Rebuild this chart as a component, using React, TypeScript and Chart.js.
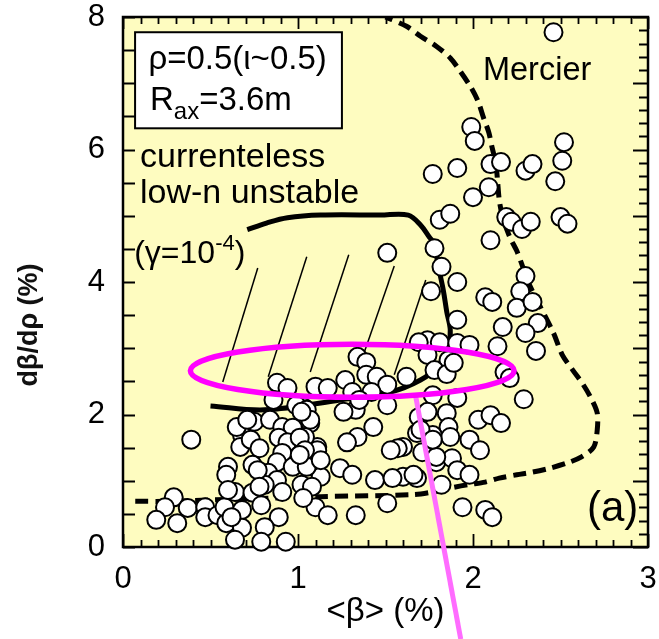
import React, { useEffect, useRef } from 'react';
import { Chart, registerables } from 'chart.js';

Chart.register(...registerables);

const FONT = '"Liberation Sans", Arial, Helvetica, sans-serif';

// axis ranges and labels
const xRange = [0, 3];
const yRange = [0, 8];
const xTickStep = 1;
const yTickStep = 2;
const xTitle = '<β> (%)';
const yTitle = 'dβ/dρ (%)';

// measured shots: [<beta> (%), d beta / d rho (%)]
const shotPoints: [number, number][] = [
  [2.46, 7.77], [1.99, 6.34], [2.01, 6.13], [1.77, 5.63], [1.91, 5.72], [2.10, 5.78],
  [2.16, 5.81], [2.30, 5.68], [2.34, 5.78], [2.52, 6.11], [2.51, 5.83], [2.47, 5.52],
  [2.00, 5.28], [2.09, 5.43], [1.81, 4.94], [1.87, 5.03], [2.19, 4.98], [2.22, 4.91],
  [2.28, 4.80], [2.33, 4.91], [2.50, 4.98], [2.54, 4.88], [2.10, 4.63], [1.78, 4.51],
  [1.82, 4.23], [1.91, 4.00], [1.76, 3.86], [2.30, 4.09], [2.27, 3.86], [2.07, 3.77],
  [2.11, 3.70], [2.25, 3.61], [2.34, 3.70], [1.51, 4.44], [1.91, 3.43], [2.17, 3.32],
  [2.37, 3.38], [2.30, 3.23], [2.14, 3.03], [2.36, 2.96], [1.74, 3.12], [1.81, 3.09],
  [1.91, 3.08], [1.98, 3.05], [1.69, 3.09], [1.74, 2.90], [1.86, 2.82], [1.78, 2.67],
  [1.85, 2.61], [1.62, 2.57], [2.18, 2.64], [2.21, 2.55], [1.77, 2.29], [1.91, 2.25],
  [2.29, 2.23], [1.69, 1.96], [1.74, 2.04], [1.85, 2.02], [1.86, 1.81], [2.03, 1.92],
  [2.10, 1.99], [2.16, 1.87], [1.68, 1.72], [1.77, 1.69], [1.87, 1.66], [1.98, 1.62],
  [1.60, 1.51], [2.04, 1.46], [1.71, 1.43], [1.79, 1.28], [1.88, 1.34], [1.91, 1.16],
  [1.98, 1.09], [1.68, 1.04], [1.60, 1.06], [1.82, 0.94], [1.94, 0.60], [2.07, 0.56],
  [2.11, 0.45], [1.89, 2.78], [1.34, 2.87], [1.39, 2.79], [1.39, 2.60], [1.45, 2.57],
  [1.27, 2.52], [1.10, 2.42], [1.17, 2.40], [1.51, 2.45], [1.31, 2.34], [1.42, 2.34],
  [1.33, 2.07], [1.51, 2.14], [1.03, 2.11], [1.07, 1.87], [1.43, 1.81], [1.34, 1.66],
  [1.11, 1.51], [1.04, 1.66], [1.70, 1.77], [1.79, 1.36], [1.77, 1.62], [1.24, 1.19],
  [1.31, 1.09], [1.44, 1.01], [1.66, 1.09], [1.09, 1.21], [1.13, 1.06], [0.88, 2.48],
  [0.94, 2.40], [0.86, 2.22], [0.99, 2.14], [1.05, 2.07], [0.75, 1.89], [0.84, 1.92],
  [0.91, 1.81], [0.97, 1.80], [1.07, 1.92], [0.39, 1.62], [0.68, 1.69], [0.67, 1.51],
  [0.73, 1.62], [0.78, 1.49], [0.89, 1.65], [0.94, 1.58], [1.01, 1.65], [1.11, 1.46],
  [1.04, 1.46], [0.91, 1.42], [0.60, 1.21], [0.59, 1.09], [0.74, 1.24], [0.88, 1.28],
  [0.97, 1.21], [1.05, 1.21], [0.83, 1.12], [0.88, 1.01], [0.81, 0.94], [0.64, 0.83],
  [0.74, 0.82], [0.91, 0.83], [1.02, 0.94], [1.08, 0.91], [0.29, 0.75], [0.24, 0.60],
  [0.37, 0.59], [0.47, 0.60], [0.47, 0.45], [0.54, 0.48], [0.58, 0.60], [0.68, 0.56],
  [0.79, 0.63], [0.89, 0.45], [1.10, 0.60], [0.19, 0.41], [0.31, 0.36], [0.59, 0.36],
  [0.68, 0.29], [0.81, 0.30], [0.64, 0.11], [0.79, 0.08], [0.93, 0.08], [1.03, 0.74],
  [1.33, 0.48], [1.17, 0.48], [1.51, 0.66], [1.35, 2.22], [1.57, 1.49], [1.01, 1.39],
  [0.77, 1.16], [0.78, 0.91], [0.60, 0.86], [0.62, 0.45], [0.65, 1.81], [0.71, 1.92],
  [1.02, 2.04], [1.13, 1.31], [1.26, 2.04], [1.28, 1.58], [1.53, 1.46], [1.54, 1.04],
];

// Mercier boundary (dashed)
const mercierBeta = [
  0.07, 0.24, 1.13, 1.66, 1.77, 1.87, 1.97, 2.07, 2.15, 2.25, 2.34, 2.44, 2.54, 2.62,
  2.69, 2.71, 2.71, 2.68, 2.63, 2.57, 2.51, 2.46, 2.38, 2.31, 2.28, 2.25, 2.21, 2.17,
  2.15, 2.14, 2.13, 2.11, 2.09, 2.06, 2.03, 1.99, 1.93, 1.87, 1.79, 1.70, 1.62, 1.50,
];
const mercierGrad = [
  0.69, 0.69, 0.76, 0.79, 0.83, 0.89, 0.94, 0.98, 1.04, 1.09, 1.13, 1.19, 1.27, 1.36,
  1.51, 1.77, 2.02, 2.22, 2.45, 2.67, 2.90, 3.23, 3.65, 4.03, 4.26, 4.47, 4.68, 4.97,
  5.24, 5.54, 5.80, 6.02, 6.26, 6.48, 6.72, 6.93, 7.17, 7.38, 7.56, 7.71, 7.86, 8.00,
];

// currentless low-n unstable boundary (solid)
const lowNBeta = [0.50, 0.81, 1.24, 1.53, 1.70, 1.80, 1.86, 1.87, 1.85, 1.83, 1.80, 1.78, 1.75, 1.70, 1.63, 1.47, 1.13, 0.94, 0.82, 0.71];
const lowNGrad = [2.13, 2.07, 2.22, 2.34, 2.52, 2.73, 3.05, 3.28, 3.55, 3.88, 4.26, 4.57, 4.68, 4.86, 5.01, 5.01, 5.01, 4.97, 4.89, 4.79];

// hatch lines inside the unstable region: [beta, grad] top and bottom ends
const hatchTop: [number, number][] = [[0.77, 4.21], [1.05, 4.38], [1.29, 4.41], [1.55, 4.24], [1.73, 4.03]];
const hatchBottom: [number, number][] = [[0.57, 2.49], [0.83, 2.57], [1.07, 2.64], [1.35, 2.72], [1.55, 2.60]];

// magenta highlight ellipse and pointer
const ellipseCenter = [1.31, 2.66];
const ellipseRadii = [0.925, 0.40];
const pointerFrom = [1.67, 2.31];
const pointerTo = [1.93, -1.39];

const framePlugin = {
  id: 'frame',
  beforeDraw(chart: any) {
    const { ctx, chartArea: a } = chart;
    ctx.save();
    ctx.fillStyle = '#ffffff';
    ctx.fillRect(0, 0, chart.width, chart.height);
    ctx.fillStyle = '#fefcc0';
    ctx.fillRect(a.left, a.top, a.right - a.left, a.bottom - a.top);
    ctx.restore();
  },
  beforeDatasetsDraw(chart: any) {
    const { ctx, chartArea: a, scales } = chart;
    const x = scales.x, y = scales.y;
    ctx.save();
    ctx.strokeStyle = '#000';
    ctx.lineWidth = 1.8;
    ctx.beginPath();
    for (let i = 0; i <= 30; i++) {
      const px = Math.round(x.getPixelForValue(i / 10)) + 0.5;
      const major = i % 10 === 0;
      ctx.moveTo(px, a.bottom); ctx.lineTo(px, a.bottom - (major ? 13 : 7));
      ctx.moveTo(px, a.top); ctx.lineTo(px, a.top + (major ? 12 : 7));
    }
    for (let i = 0; i <= 16; i++) {
      const py = Math.round(y.getPixelForValue(i / 2)) + 0.5;
      ctx.moveTo(a.left, py); ctx.lineTo(a.left + 12, py);
    }
    for (let i = 0; i <= 40; i++) {
      const py = Math.round(y.getPixelForValue(i / 5)) + 0.5;
      const major = i % 5 === 0;
      ctx.moveTo(a.right, py); ctx.lineTo(a.right - (major ? 15 : 9), py);
    }
    ctx.stroke();
    ctx.lineWidth = 2.5;
    ctx.strokeRect(a.left, a.top, a.right - a.left, a.bottom - a.top);
    ctx.restore();
  },
  afterDraw(chart: any) {
    const { ctx, chartArea: a } = chart;
    ctx.save();
    ctx.translate(30, (a.top + a.bottom) / 2 + 43);
    ctx.rotate(-Math.PI / 2);
    ctx.font = `bold 27px ${FONT}`;
    ctx.fillStyle = '#111';
    ctx.textAlign = 'center';
    ctx.textBaseline = 'middle';
    ctx.fillText(yTitle, 0, 0);
    ctx.restore();
  },
};

function drawRuns(ctx: CanvasRenderingContext2D, runs: [string, number, number][], x: number, y: number) {
  let cx = x;
  for (const [t, size, dy] of runs) {
    ctx.font = `${size}px ${FONT}`;
    ctx.fillText(t, cx, y + dy);
    cx += ctx.measureText(t).width;
  }
}

const annotationPlugin = {
  id: 'annotations',
  afterDatasetsDraw(chart: any) {
    const { ctx, scales } = chart;
    const X = (v: number) => scales.x.getPixelForValue(v);
    const Y = (v: number) => scales.y.getPixelForValue(v);
    ctx.save();
    // pointer line
    ctx.strokeStyle = '#ff6cff';
    ctx.lineWidth = 5;
    ctx.beginPath();
    ctx.moveTo(X(pointerFrom[0]), Y(pointerFrom[1]));
    ctx.lineTo(X(pointerTo[0]), Y(pointerTo[1]));
    ctx.stroke();
    // ellipse
    ctx.strokeStyle = '#ff00ff';
    ctx.lineWidth = 5.5;
    ctx.beginPath();
    ctx.ellipse(
      X(ellipseCenter[0]), Y(ellipseCenter[1]),
      X(ellipseCenter[0] + ellipseRadii[0]) - X(ellipseCenter[0]),
      Y(ellipseCenter[1]) - Y(ellipseCenter[1] + ellipseRadii[1]),
      0, 0, Math.PI * 2,
    );
    ctx.stroke();
    // info box
    const bx0 = X(0.069), bx1 = X(1.251), by0 = Y(7.77), by1 = Y(6.32);
    ctx.fillStyle = '#ffffff';
    ctx.fillRect(bx0, by0, bx1 - bx0, by1 - by0);
    ctx.strokeStyle = '#000';
    ctx.lineWidth = 2;
    ctx.strokeRect(bx0, by0, bx1 - bx0, by1 - by0);
    ctx.fillStyle = '#000';
    ctx.textBaseline = 'alphabetic';
    ctx.textAlign = 'left';
    drawRuns(ctx, [['ρ=0.5(ι~0.5)', 33, 0]], X(0.145), Y(7.21));
    drawRuns(ctx, [['R', 33, 0], ['ax', 24, 9], ['=3.6m', 33, 0]], X(0.154), Y(6.6));
    drawRuns(ctx, [['currenteless', 34, 0]], X(0.097), Y(5.74));
    drawRuns(ctx, [['low-n unstable', 34, 0]], X(0.097), Y(5.19));
    drawRuns(ctx, [['(γ=10', 32, 0], ['-4', 22, -13], [')', 32, 0]], X(0.064), Y(4.29));
    drawRuns(ctx, [['Mercier', 32.5, 0]], X(2.057), Y(7.05));
    drawRuns(ctx, [['(a)', 42, 0]], X(2.651), Y(0.40));
    ctx.restore();
  },
};

export default function App() {
  const ref = useRef<HTMLCanvasElement>(null);
  useEffect(() => {
    document.body.style.margin = '0';
    const canvas = ref.current;
    if (!canvas) return;
    const lineSet = (data: { x: number; y: number }[], width: number, extra: any = {}) => ({
      type: 'line' as const,
      data,
      showLine: true,
      borderColor: '#000',
      borderWidth: width,
      pointRadius: 0,
      fill: false,
      ...extra,
    });
    const datasets: any[] = [
      {
        type: 'scatter',
        data: shotPoints.map(([x, y]) => ({ x, y })),
        pointRadius: 9,
        pointBackgroundColor: '#ffffff',
        pointBorderColor: '#000000',
        pointBorderWidth: 2,
        showLine: false,
        clip: 12,
        order: 0,
      },
      lineSet(mercierBeta.map((x, i) => ({ x, y: mercierGrad[i] })), 5, {
        borderDash: [13, 7], tension: 0.3, order: 2, borderCapStyle: 'butt',
      }),
      lineSet(lowNBeta.map((x, i) => ({ x, y: lowNGrad[i] })), 5, { tension: 0.35, order: 2 }),
      ...hatchTop.map((t, i) => lineSet([
        { x: t[0], y: t[1] },
        { x: hatchBottom[i][0], y: hatchBottom[i][1] },
      ], 1.5, { order: 3 })),
    ];
    const zeroPad = (s: any) => {
      s.paddingLeft = 0; s.paddingRight = 0; s.paddingTop = 0; s.paddingBottom = 0;
    };
    const chart = new Chart(canvas, {
      type: 'scatter',
      data: { datasets },
      plugins: [framePlugin, annotationPlugin],
      options: {
        animation: false,
        responsive: false,
        devicePixelRatio: 1,
        events: [],
        layout: { padding: { top: 17, right: 11, left: 0, bottom: 0 } },
        plugins: { legend: { display: false }, tooltip: { enabled: false } },
        scales: {
          x: {
            type: 'linear',
            min: xRange[0],
            max: xRange[1],
            grid: { display: false, drawTicks: false },
            border: { display: false },
            ticks: { stepSize: xTickStep, color: '#000', padding: 14, font: { family: FONT, size: 31 } },
            title: {
              display: true,
              text: xTitle,
              color: '#000',
              font: { family: FONT, size: 33 },
              padding: { top: 0, bottom: 7 },
            },
            afterFit: (s: any) => { s.height = 92; zeroPad(s); },
          },
          y: {
            type: 'linear',
            min: yRange[0],
            max: yRange[1],
            grid: { display: false, drawTicks: false },
            border: { display: false },
            ticks: { stepSize: yTickStep, color: '#000', padding: 18, font: { family: FONT, size: 31 } },
            title: { display: false },
            afterFit: (s: any) => { s.width = 123; zeroPad(s); },
          },
        },
      } as any,
    });
    return () => chart.destroy();
  }, []);
  return (
    <div style={{ width: 659, height: 639, background: '#fff' }}>
      <canvas ref={ref} width={659} height={639} style={{ display: 'block' }} />
    </div>
  );
}
